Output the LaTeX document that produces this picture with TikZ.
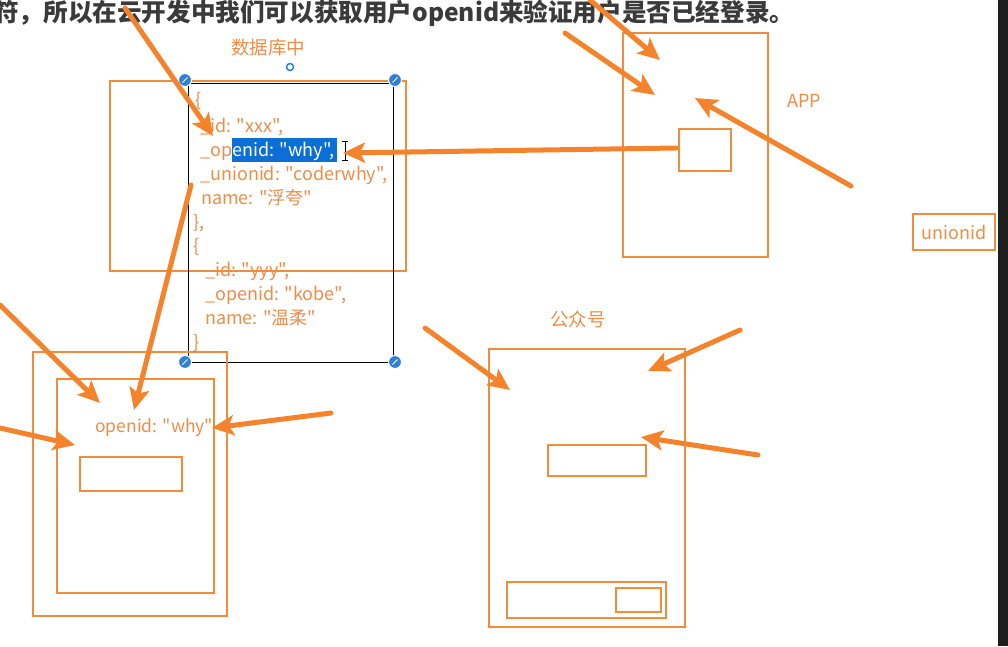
\documentclass[tikz,border=0pt]{standalone}
\usepackage{fontspec}
\setmainfont{Noto Sans CJK SC}
\newfontfamily\codefont{Noto Sans CJK SC}
\usetikzlibrary{arrows.meta}
\definecolor{arr}{HTML}{F5832B}
\definecolor{obox}{HTML}{F08C3C}
\definecolor{otxt}{HTML}{EC8E4A}
\definecolor{selblue}{HTML}{0B6FD6}
\definecolor{hblue}{HTML}{2F7FD8}
\definecolor{ttl}{HTML}{3A3A3A}
\definecolor{darkstrip}{HTML}{1E1E1E}
\newcommand\hlt[1]{{\setlength\fboxsep{0pt}\colorbox{selblue}{\textcolor{white}{\rule[-6pt]{0pt}{24pt}#1\hspace{3pt}}}}}
\begin{document}
\begin{tikzpicture}[x=1pt,y=-1pt,
 rbox/.style={draw=obox, line width=2.4pt, inner sep=0, anchor=north west},
 arrow/.style={draw=arr, line width=5pt, line cap=round, -{Stealth[length=22pt,width=20pt,inset=5pt]}},
 code/.style={text=otxt, font=\codefont\fontsize{18}{18}\selectfont, inner sep=0, anchor=base west},
 lbl/.style={text=otxt, inner sep=0},
 handle/.style={circle, fill=hblue, draw=white, line width=1pt, minimum size=13pt, inner sep=0}]
\useasboundingbox (0,0) rectangle (1008,646);
\fill[white] (0,0) rectangle (1008,646);
\fill[darkstrip] (998,0) rectangle (1008,646);

% title
\node[anchor=west, text=ttl, font=\codefont\fontsize{24.6}{24.6}\selectfont\bfseries, inner sep=0] (title) at (-6,13) {符，所以在云开发中我们可以获取用户openid来验证用户是否已经登录。};

% database
\node[rbox, minimum width=296pt, minimum height=190pt] (dbo) at (109,80) {};
\node[draw=black, line width=1pt, inner sep=0, anchor=north west, minimum width=205pt, minimum height=279pt] (sel) at (188,83) {};
\node[lbl, font=\fontsize{18.5}{18.5}\selectfont] (dbl) at (268,48) {数据库中};
\node[circle, draw=hblue, line width=1.5pt, minimum size=7pt, inner sep=0] (spin) at (290,67) {};

\node[code] (c1) at (195,106) {\{};
\node[code] (c2) at (200,132) {\_id: "xxx",};
\node[code] (c3) at (200,156) {\_op\hlt{enid: "why",}};
\node[code] (c4) at (200,180) {\_unionid: "coderwhy",};
\node[code] (c5) at (201,204) {name: "浮夸"};
\node[code] (c6) at (193,228) {\},};
\node[code] (c7) at (193,252) {\{};
\node[code] (c8) at (205,276) {\_id: "yyy",};
\node[code] (c9) at (205,300) {\_openid: "kobe",};
\node[code] (c10) at (205,324) {name: "温柔"};
\node[code] (c11) at (193,348) {\}};

% I-beam cursor
\draw[black, line width=0.8pt] (342,141) -- (348,141) (345,141) -- (345,160) (342,160) -- (348,160);

% handles
\foreach \n/\x/\y in {h1/185/80, h2/395/80, h3/185/362, h4/395/362}{
  \node[handle] (\n) at (\x,\y) {};
  \draw[white, line width=1pt] (\x-2.5,\y+2.5) -- (\x+2.5,\y-2.5);
}

% APP
\node[rbox, minimum width=145pt, minimum height=224pt] (app) at (622,32) {};
\node[rbox, minimum width=52pt, minimum height=42pt] (appin) at (678,128) {};
\node[lbl, font=\fontsize{18}{18}\selectfont] (appl) at (804,101) {APP};
\node[rbox, minimum width=82pt, minimum height=36pt] (union) at (912,213) {};
\node[lbl, font=\fontsize{18}{18}\selectfont] (unionl) at (954,232) {unionid};

% left phone
\node[rbox, minimum width=194pt, minimum height=264pt] (lpo) at (32,351) {};
\node[rbox, minimum width=157pt, minimum height=214pt] (lpi) at (56,378) {};
\node[rbox, minimum width=102pt, minimum height=34pt] (lpb) at (79,456) {};
\node[lbl, font=\codefont\fontsize{17.5}{17.5}\selectfont, anchor=west] (oid) at (95,428) {openid: "why"};

% gongzhonghao phone
\node[lbl, font=\fontsize{18.5}{18.5}\selectfont] (gzhl) at (578,319) {公众号};
\node[rbox, minimum width=196pt, minimum height=278pt] (gzh) at (488,348) {};
\node[rbox, minimum width=98pt, minimum height=31pt] (gzhbox) at (547,444) {};
\node[rbox, minimum width=159pt, minimum height=36pt] (gzhbar) at (506,581) {};
\node[rbox, minimum width=45pt, minimum height=24pt] (gzhbtn) at (615,587) {};

% arrow end coordinates
\coordinate (s1) at (125,8);   \coordinate (t1) at (213,136);
\coordinate (s2) at (676,148); \coordinate (t2) at (343,153);
\coordinate (s3) at (590,0);   \coordinate (t3) at (660,60);
\coordinate (s4) at (565,33);  \coordinate (t4) at (655,95);
\coordinate (s5) at (851,186); \coordinate (t5) at (695,98);
\coordinate (s6) at (0,305);   \coordinate (t6) at (100,403);
\coordinate (s7) at (191,185); \coordinate (t7) at (134,410);
\coordinate (s8) at (0,428);   \coordinate (t8) at (75,445);
\coordinate (s9) at (331,413); \coordinate (t9) at (212,428);
\coordinate (s10) at (425,328); \coordinate (t10) at (510,390);
\coordinate (s11) at (740,330); \coordinate (t11) at (648,371);
\coordinate (s12) at (758,455); \coordinate (t12) at (641,437);

\draw[arrow] (s1) -- (t1);
\draw[arrow] (s2) -- (t2);
\draw[arrow] (s3) -- (t3);
\draw[arrow] (s4) -- (t4);
\draw[arrow] (s5) -- (t5);
\draw[arrow] (s6) -- (t6);
\draw[arrow] (s7) -- (t7);
\draw[arrow] (s8) -- (t8);
\draw[arrow] (s9) -- (t9);
\draw[arrow] (s10) -- (t10);
\draw[arrow] (s11) -- (t11);
\draw[arrow] (s12) -- (t12);
\end{tikzpicture}
\end{document}
